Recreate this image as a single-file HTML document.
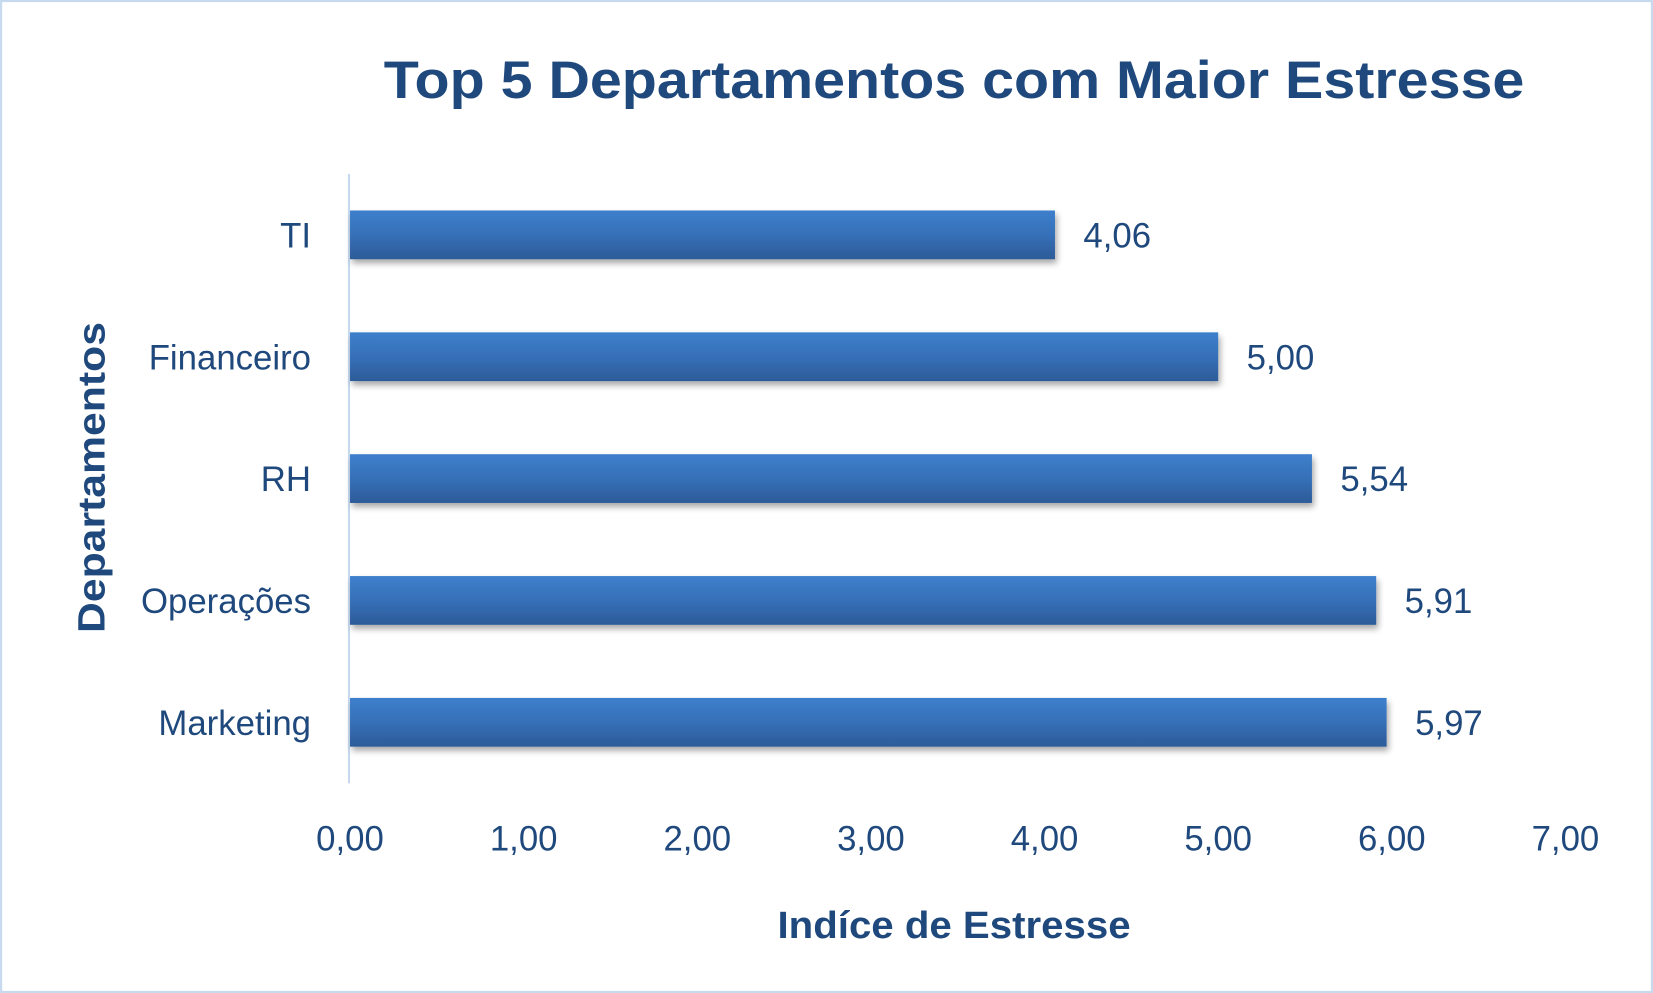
<!DOCTYPE html>
<html><head><meta charset="utf-8"><style>html,body{margin:0;padding:0;background:#fff}svg{display:block}text{font-family:"Liberation Sans",sans-serif;fill:#1f497d}</style></head>
<body>
<svg width="1653" height="993" viewBox="0 0 1568 942" xmlns="http://www.w3.org/2000/svg">
<defs>
<linearGradient id="bg" x1="0" y1="0" x2="0" y2="1"><stop offset="0" stop-color="#3d7fcc"/><stop offset="0.5" stop-color="#3670b8"/><stop offset="1" stop-color="#2c5b98"/></linearGradient>
<filter id="sh" x="-5%" y="-30%" width="110%" height="180%"><feGaussianBlur in="SourceAlpha" stdDeviation="3"/><feOffset dx="2" dy="4"/><feComponentTransfer><feFuncA type="linear" slope="0.35"/></feComponentTransfer><feMerge><feMergeNode/><feMergeNode in="SourceGraphic"/></feMerge></filter>
</defs>
<rect x="1" y="1" width="1566" height="940" fill="#fff" stroke="#c6d9ee" stroke-width="2"/>
<text x="905" y="93" text-anchor="middle" font-size="50" font-weight="bold" textLength="1082" lengthAdjust="spacingAndGlyphs">Top 5 Departamentos com Maior Estresse</text>
<line x1="331" y1="165" x2="331" y2="743" stroke="#c6d9ee" stroke-width="2"/>
<g id="bars"></g>
<g id="ticks"></g>
<text x="905" y="890" text-anchor="middle" font-size="36" font-weight="bold" textLength="335" lengthAdjust="spacingAndGlyphs">Indíce de Estresse</text>
<text transform="translate(99,453) rotate(-90)" text-anchor="middle" font-size="36" font-weight="bold" textLength="295" lengthAdjust="spacingAndGlyphs">Departamentos</text>
</svg>
<script>
const categories = ["TI","Financeiro","RH","Operações","Marketing"];
const values = [4.06,5.00,5.54,5.91,5.97];
const ticks = [0,1,2,3,4,5,6,7];
const NS="http://www.w3.org/2000/svg";
const x0=332, x1=1485, xMax=7, yTop=165, yBot=743;
const xs=v=>x0+(v/xMax)*(x1-x0);
const band=(yBot-yTop)/categories.length;
const yc=i=>yTop+band*(i+0.5);
const fmt=v=>v.toFixed(2).replace('.',',');
const bars=document.getElementById('bars'), tk=document.getElementById('ticks');
function mk(tag,attrs,parent){const e=document.createElementNS(NS,tag);for(const k in attrs)e.setAttribute(k,attrs[k]);parent.appendChild(e);return e;}
categories.forEach((c,i)=>{
  const h=band*0.4, y=yc(i)-h/2;
  const r=mk('rect',{x:x0,y:y,width:xs(values[i])-x0,height:h,fill:'url(#bg)',filter:'url(#sh)'},bars);
  
  
  const l=mk('text',{x:295,y:yc(i)+12,'text-anchor':'end','font-size':'33'},bars);
  l.textContent=c;
  
  
  const v=mk('text',{x:xs(values[i])+27,y:yc(i)+12,'font-size':'33'},bars);
  v.textContent=fmt(values[i]);
  
  
});
ticks.forEach(t=>{
  const e=mk('text',{x:xs(t),y:807,'text-anchor':'middle','font-size':'33'},tk);
  e.textContent=fmt(t);
  
  
});
</script>
</body></html>
